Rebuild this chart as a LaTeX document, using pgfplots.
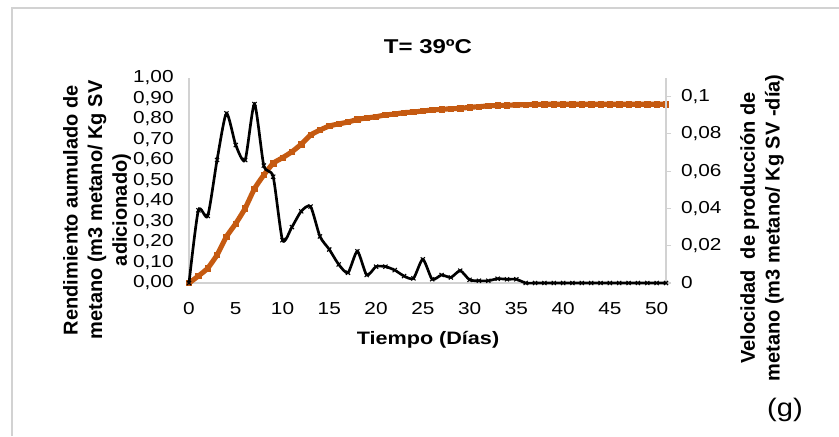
\documentclass[border=0pt]{standalone}
\usepackage{pgfplots}
\pgfplotsset{compat=1.18}
\usepackage{pgfplotstable}
\usepackage{fontspec}
\setmainfont{Liberation Sans}
\usepackage{graphicx}
\definecolor{orangeS}{RGB}{197,90,17}
\definecolor{axgray}{RGB}{210,210,210}

\pgfplotstableread{
d y
0 0
1 0.034
2 0.072
3 0.137
4 0.226
5 0.290
6 0.364
7 0.460
8 0.527
9 0.584
10 0.611
11 0.640
12 0.677
13 0.722
14 0.746
15 0.766
16 0.776
17 0.785
18 0.798
19 0.805
20 0.811
21 0.820
22 0.824
23 0.831
24 0.834
25 0.839
26 0.844
27 0.847
28 0.850
29 0.852
30 0.857
31 0.860
32 0.864
33 0.866
34 0.867
35 0.869
36 0.870
37 0.871
38 0.872
39 0.872
40 0.872
41 0.872
42 0.872
43 0.872
44 0.872
45 0.872
46 0.872
47 0.872
48 0.872
49 0.872
50 0.872
51 0.872
}\acum

\pgfplotstableread{
d v
0 0
1 0.039
2 0.036
3 0.066
4 0.091
5 0.074
6 0.066
7 0.096
8 0.063
9 0.057
10 0.023
11 0.030
12 0.0385
13 0.041
14 0.025
15 0.018
16 0.010
17 0.0055
18 0.017
19 0.0043
20 0.0088
21 0.0088
22 0.0069
23 0.0037
24 0.0025
25 0.0127
26 0.002
27 0.0043
28 0.003
29 0.0066
30 0.0017
31 0.0012
32 0.0012
33 0.0023
34 0.002
35 0.002
36 0
37 0
38 0
39 0
40 0
41 0
42 0
43 0
44 0
45 0
46 0
47 0
48 0
49 0
50 0
51 0
}\veloc

\begin{document}
\begin{tikzpicture}
\begin{scope}[x=0.75pt,y=0.75pt]
\path[use as bounding box] (0,0) rectangle (839,436);
\draw[axgray, line width=1.5pt] (12,0) -- (12,428) -- (839,428);
\node[font=\fontsize{15}{17}\selectfont\bfseries] at (428,389) {\scalebox{1.2}[1]{T= 39ºC}};
\node[font=\fontsize{13.5}{16}\selectfont\bfseries] at (428,96) {\scalebox{1.2}[1]{Tiempo (Días)}};
\node[font=\fontsize{15}{18.5}\selectfont\bfseries, rotate=90, align=center] at (97,226) {Rendimiento aumulado de\\metano (m3 metano/ Kg SV\\adicionado)};
\node[font=\fontsize{15}{18.5}\selectfont\bfseries, rotate=90, align=center] at (762,208) {Velocidad\ \ de producción de\\metano (m3 metano/ Kg SV -día)};
\node[font=\fontsize{19}{22}\selectfont] at (785,26) {\scalebox{1.15}[1]{(g)}};
\end{scope}

\begin{axis}[
  at={(141.75pt,114.75pt)}, anchor=south west,
  scale only axis, width=357.75pt, height=153.75pt,
  xmin=0, xmax=51, ymin=0, ymax=1,
  axis x line*=bottom, axis y line*=left,
  axis line style={draw=axgray, line width=1pt},
  major tick length=0pt,
  /pgf/number format/assume math mode=true,
  xtick={0,5,10,15,20,25,30,35,40,45,50},
  ytick={0,0.1,0.2,0.3,0.4,0.5,0.6,0.7,0.8,0.9,1},
  xticklabel={\scalebox{1.2}[1]{\pgfmathprintnumber{\tick}}},
  yticklabel={\scalebox{1.2}[1]{\pgfmathprintnumber[fixed,fixed zerofill,precision=2,use comma]{\tick}}},
  ticklabel style={font=\fontsize{13}{15}\selectfont},
  xticklabel style={yshift=-11pt},
  yticklabel style={xshift=-8pt},
  clip=false,
]
\addplot[orangeS, line width=3.8pt, smooth, tension=0.3, mark=square*, mark size=2pt, mark options={solid, fill=orangeS, draw=orangeS, line width=0.5pt}] table[x=d, y=y] {\acum};
\end{axis}

\begin{axis}[
  at={(141.75pt,114.75pt)}, anchor=south west,
  scale only axis, width=357.75pt, height=153.75pt,
  xmin=0, xmax=51, ymin=0, ymax=0.11,
  axis x line=none, axis y line*=right,
  axis line style={draw=axgray, line width=1pt},
  tick align=outside, major tick length=3.75pt,
  tick style={axgray, line width=0.8pt},
  /pgf/number format/assume math mode=true,
  ytick={0,0.02,0.04,0.06,0.08,0.1},
  yticklabel={\scalebox{1.2}[1]{\pgfmathprintnumber[fixed,precision=2,use comma]{\tick}}},
  yticklabel style={font=\fontsize{13}{15}\selectfont, xshift=4pt},
  clip=false,
]
\addplot[black, line width=2pt, smooth, tension=0.4, mark=x, mark size=2.2pt, mark options={solid, line width=0.8pt}] table[x=d, y=v] {\veloc};
\end{axis}
\end{tikzpicture}
\end{document}
